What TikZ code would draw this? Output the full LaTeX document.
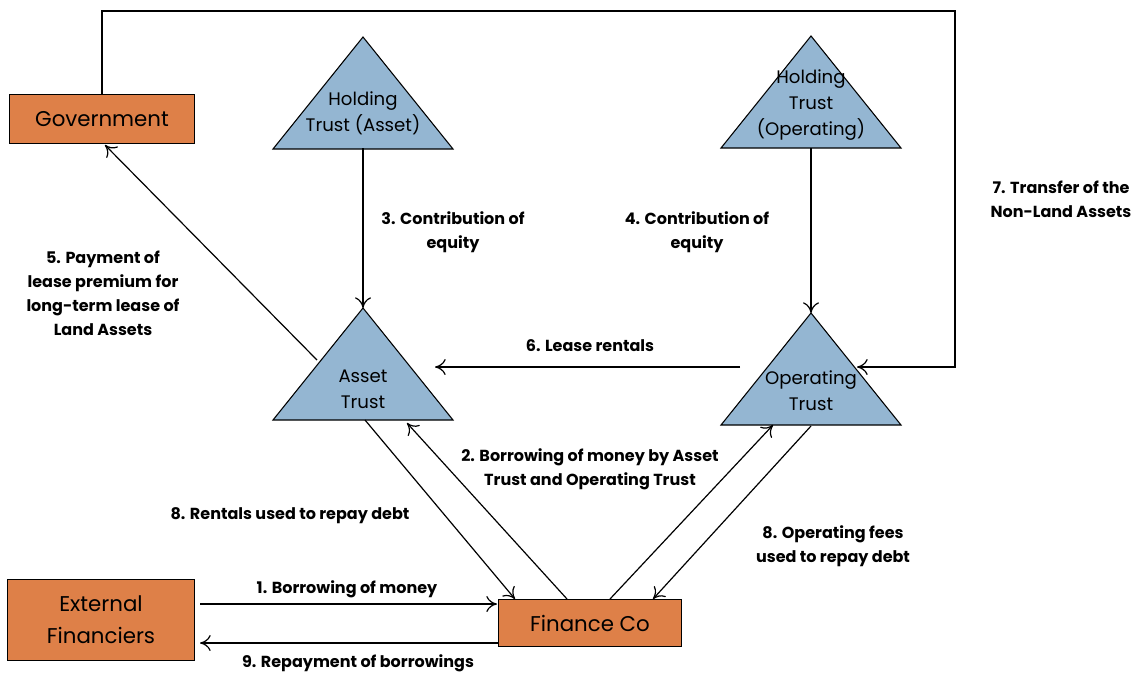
\documentclass[tikz,border=0pt]{standalone}
\usepackage{fontspec}
\setmainfont{Poppins}
\usetikzlibrary{arrows.meta}
\definecolor{boxorange}{RGB}{222,128,72}
\definecolor{trustblue}{RGB}{148,182,210}
\begin{document}
\begin{tikzpicture}[x=0.75pt,y=-0.75pt,>={To[length=8pt,width=12pt]}]
    \tikzstyle{party}= [draw,thick,fill=boxorange,align=center,inner sep=0pt,font=\fontsize{16}{24}\selectfont]
    \tikzstyle{tri}= [draw,thick,fill=trustblue]
    \tikzstyle{trilabel}= [align=center,font=\fontsize{13.6}{19.5}\selectfont]
    \tikzstyle{flow}= [->,line width=0.9pt]
    \tikzstyle{note}= [align=center,font=\bfseries\fontsize{12}{18}\selectfont]
  \def\tri(#1,#2,#3){\filldraw[tri] (#2,#3) coordinate (#1-top) -- ++(90,112) coordinate (#1-br) -- ++(-180,0) coordinate (#1-bl) -- cycle}
  \useasboundingbox (0,0) rectangle (1144,675);

  % the four trusts
  \foreach \n/\x/\y in {hta/363/37,hto/811/36,at/363/308,ot/811/313}
    \tri(\n,\x,\y);

  \node[trilabel] (htaname) at (363,113) {Holding\\Trust (Asset)};
  \node[trilabel] (htoname) at (811,105) {Holding\\Trust\\(Operating)};
  \node[trilabel] (atname) at (363,389) {Asset\\Trust};
  \node[trilabel] (otname) at (811,391) {Operating\\Trust};

  % the three parties
  \node[party,minimum width=138.75pt,minimum height=36.75pt] (gov) at (102,119) {Government};
  \node[party,minimum width=140.25pt,minimum height=60.75pt] (ext) at (101,620) {External\\Financiers};
  \node[party,minimum width=137.25pt,minimum height=35.25pt] (fin) at (590,623) {Finance Co};

  % ends of the connectors
  \coordinate (hta-foot) at (363,148);
  \coordinate (hto-foot) at (811,148);
  \coordinate (corner) at (955,11);
  \coordinate (ot-side) at (857,367);
  \coordinate (at-side) at (317,360);
  \coordinate (gov-in) at (105,145);
  \coordinate (lease-a) at (740,367);
  \coordinate (lease-b) at (435,367);
  \coordinate (at-b1) at (365,420);
  \coordinate (at-b2) at (407,423);
  \coordinate (ot-b1) at (773,425);
  \coordinate (ot-b2) at (811,426);
  \foreach \i/\x in {1/515,2/567,3/610,4/653}
    \coordinate (fin-\i) at (\x,599);
  \coordinate (ext-a) at (200,604);
  \coordinate (fin-a) at (497,604);
  \coordinate (fin-b) at (498,643);
  \coordinate (ext-b) at (200,643);

  \draw[flow] (hta-foot) -- (at-top);
  \draw[flow] (hto-foot) -- (ot-top);
  \draw[flow] (gov.north) |- (corner) |- (ot-side);
  \draw[flow] (at-side) -- (gov-in);
  \draw[flow] (lease-a) -- (lease-b);
  \draw[flow] (at-b1) -- (fin-1);
  \draw[flow] (fin-2) -- (at-b2);
  \draw[flow] (fin-3) -- (ot-b1);
  \draw[flow] (ot-b2) -- (fin-4);
  \draw[flow] (ext-a) -- (fin-a);
  \draw[flow] (fin-b) -- (ext-b);

  % labels
  \node[note] (n1) at (347,589) {1. Borrowing of money};
  \node[note] (n2) at (590,469) {2. Borrowing of money by Asset\\Trust and Operating Trust};
  \node[note] (n3) at (453,232) {3. Contribution of\\equity};
  \node[note] (n4) at (697,232) {4. Contribution of\\equity};
  \node[note] (n5) at (103,293) {5. Payment of\\lease premium for\\long-term lease of\\Land Assets};
  \node[note] (n6) at (590,346) {6. Lease rentals};
  \node[note] (n7) at (1061,199) {7. Transfer of the\\Non-Land Assets};
  \node[note] (n8a) at (290,516) {8. Rentals used to repay debt};
  \node[note] (n8b) at (833,546) {8. Operating fees\\used to repay debt};
  \node[note] (n9) at (358,663) {9. Repayment of borrowings};

\end{tikzpicture}
\end{document}
